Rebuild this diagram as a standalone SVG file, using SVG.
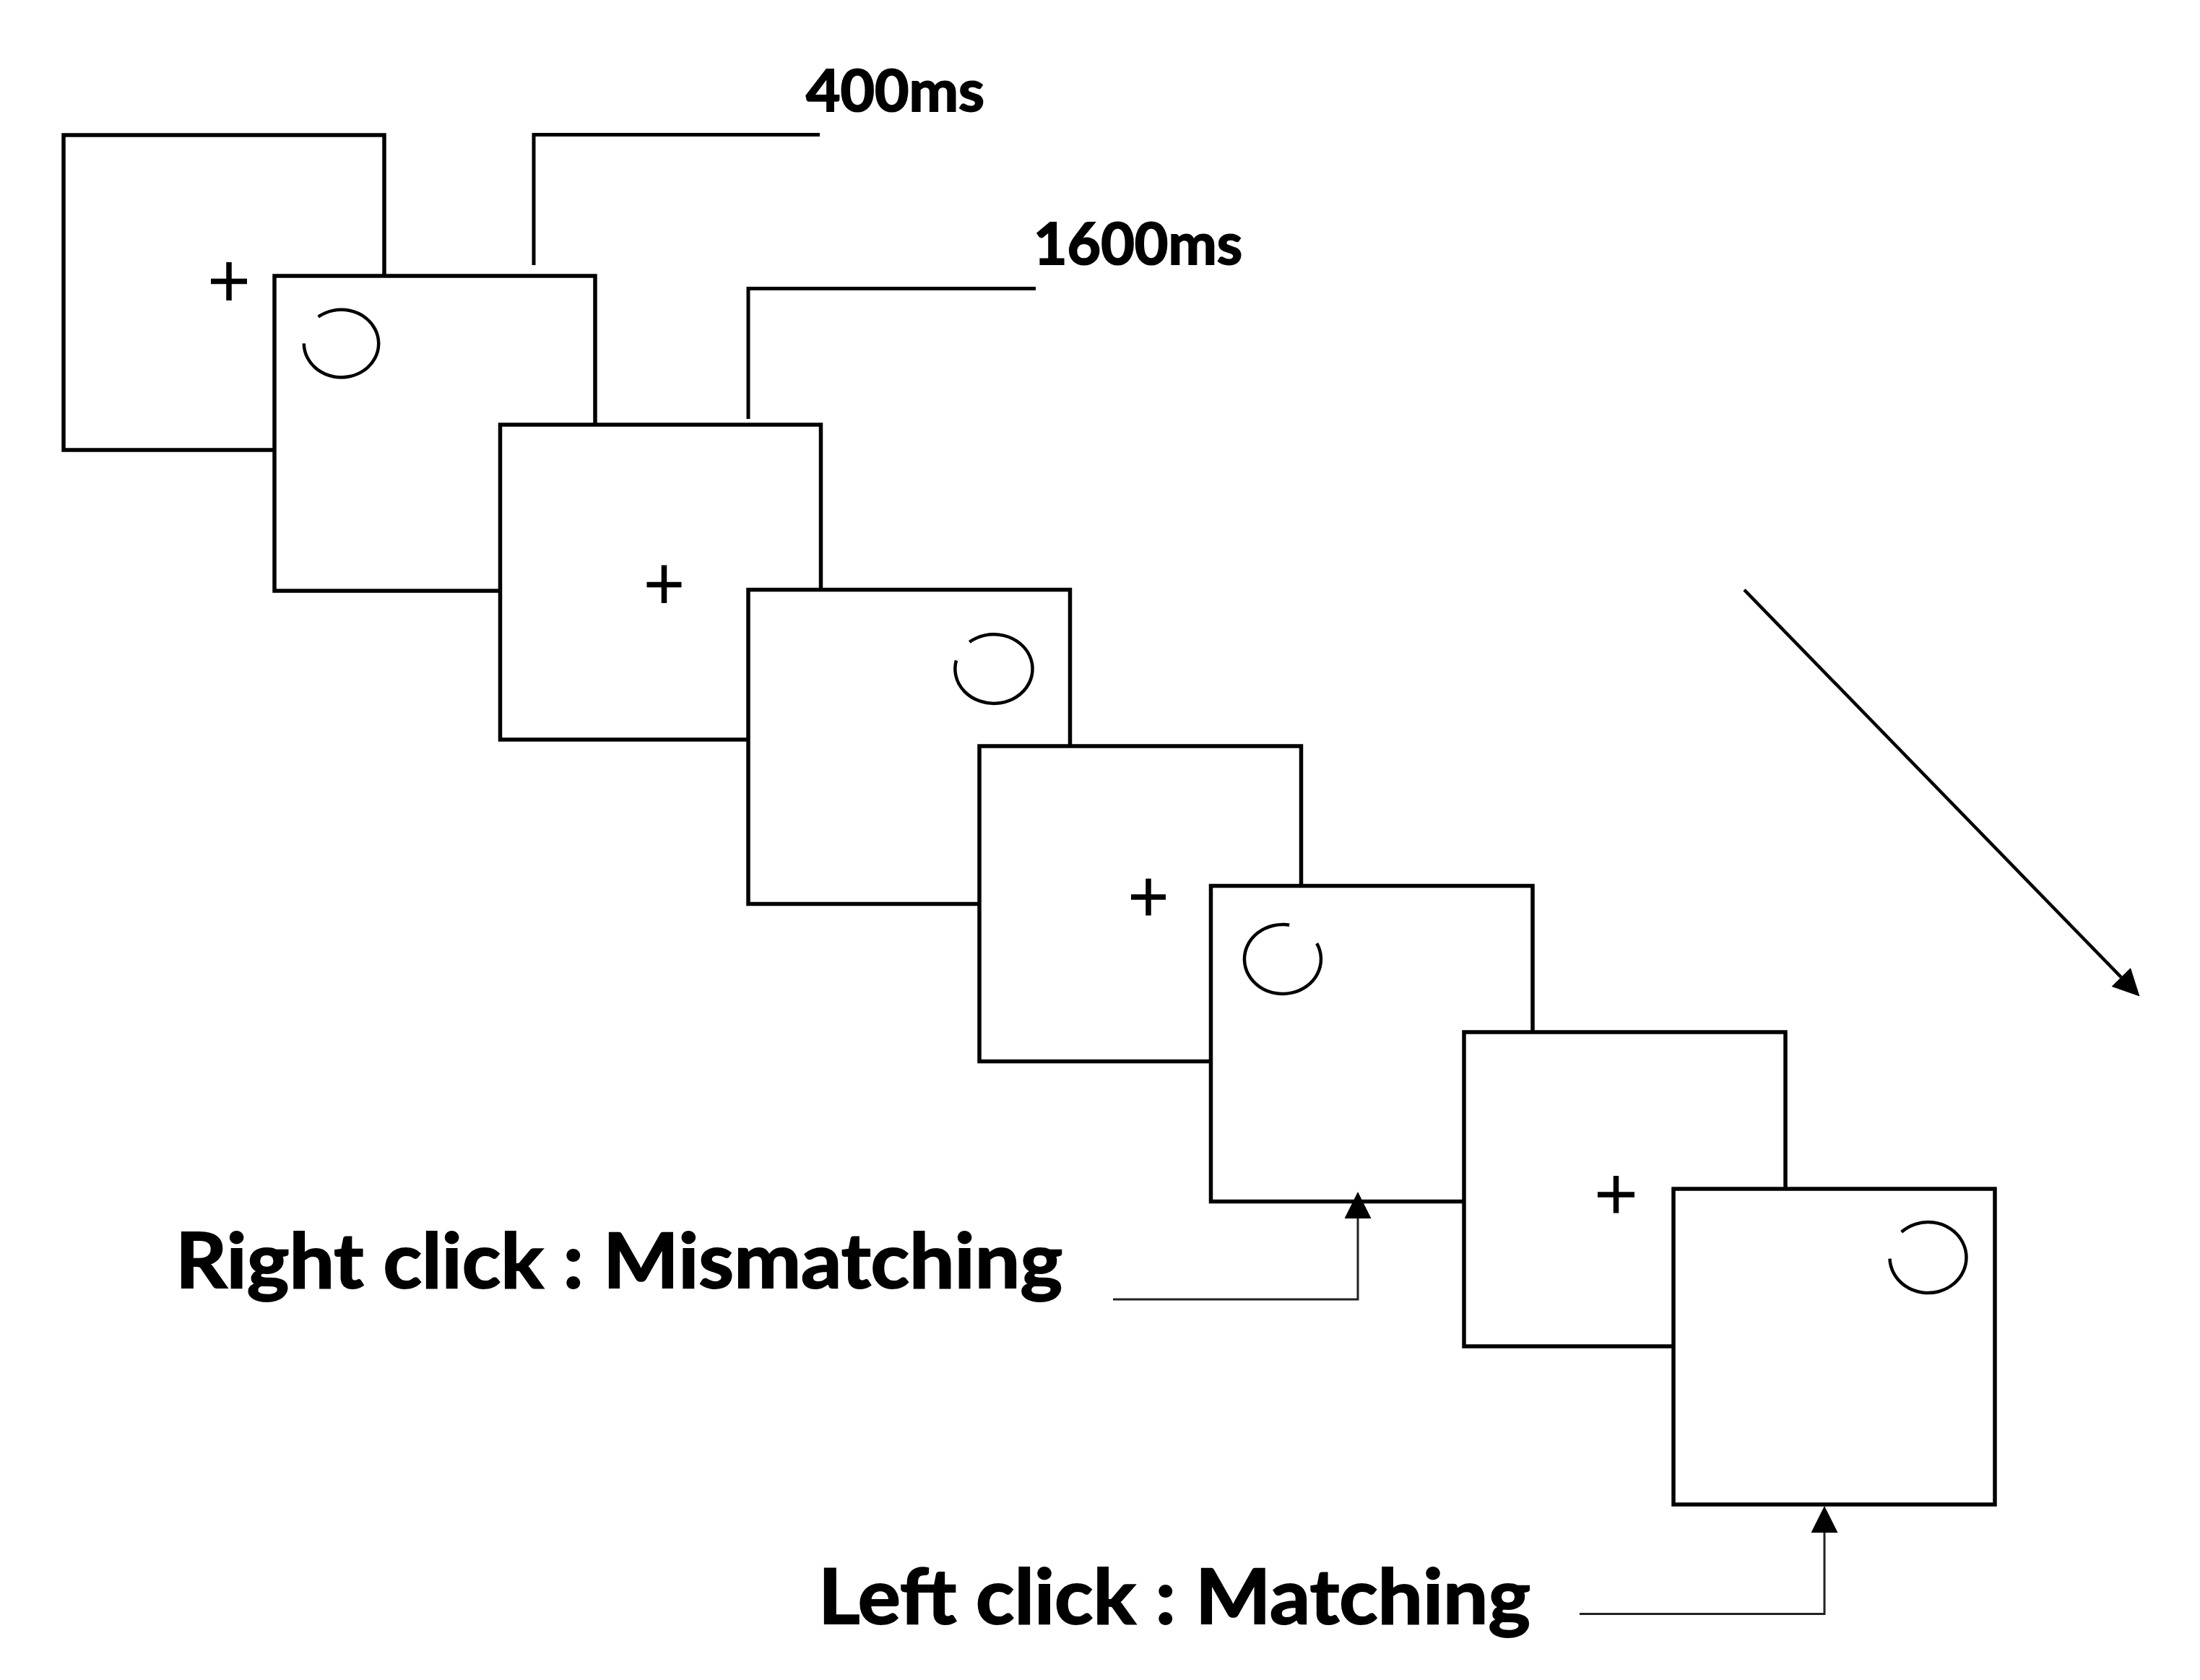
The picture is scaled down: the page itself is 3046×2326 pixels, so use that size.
<svg xmlns="http://www.w3.org/2000/svg" width="3046" height="2326" viewBox="0 0 3046 2326">
<style>
.scr{fill:#fff;stroke:#000;stroke-width:5.5}
.fix{fill:none;stroke:#000;stroke-width:7.5}
.ring{fill:none;stroke:#000;stroke-width:4.5}
.call{fill:none;stroke:#000;stroke-width:5}
.thin{fill:none;stroke:#222;stroke-width:3}
.diag{fill:none;stroke:#000;stroke-width:4.5}
.lbl{font-family:Lato,'Liberation Sans',sans-serif;font-weight:700;fill:#000;stroke:#000;stroke-width:2}
</style>
<defs>
<marker id="ah" viewBox="0 0 37 37" refX="0" refY="18.5" markerWidth="37" markerHeight="37" markerUnits="userSpaceOnUse" orient="auto">
<path d="M0,0 L37,18.5 L0,37 z" fill="#000"/>
</marker>
</defs>
<rect width="3046" height="2326" fill="#fff"/>
<g id="screen1">
<rect class="scr" x="88" y="187" width="444" height="436"/>
<path class="fix" d="M292,389.5 H342 M317,363 V416"/>
</g>
<g id="screen2">
<rect class="scr" x="380" y="382" width="444" height="436"/>
<path class="ring" d="M440.7,438.7 A51.7,46.8 0 1 1 420.8,475.6"/>
</g>
<g id="screen3">
<rect class="scr" x="692.5" y="588" width="444" height="436"/>
<path class="fix" d="M895.5,809.5 H943.5 M919.5,782.5 V835"/>
</g>
<g id="screen4">
<rect class="scr" x="1036" y="816.5" width="445.5" height="435"/>
<path class="ring" d="M1342.3,888.9 A53.6,47.8 0 1 1 1324,914.4"/>
</g>
<g id="screen5">
<rect class="scr" x="1356" y="1033" width="445.5" height="436.5"/>
<path class="fix" d="M1566,1242 H1614 M1590,1216.5 V1267.5"/>
</g>
<g id="screen6">
<rect class="scr" x="1676.5" y="1226.5" width="445.5" height="437"/>
<path class="ring" d="M1823.2,1306.2 A53,48 0 1 1 1785.2,1280.7"/>
</g>
<g id="screen7">
<rect class="scr" x="2027" y="1429" width="445" height="435"/>
<path class="fix" d="M2212,1654 H2263 M2237.5,1628 V1679.5"/>
</g>
<g id="screen8">
<rect class="scr" x="2317" y="1646" width="445" height="437"/>
<path class="ring" d="M2632.7,1705.8 A53,49 0 1 1 2616.5,1742.7"/>
</g>
<g id="connectors">
<path class="call" d="M739,367 V186.6 H1135"/>
<path class="call" d="M1036,580 V399.5 H1434"/>
<path class="thin" d="M1541,1799 H1880 V1687" marker-end="url(#ah)"/>
<path class="thin" d="M2187,2234.5 H2526 V2122" marker-end="url(#ah)"/>
<path class="diag" d="M2415,816.6 L2936.7,1352.9" marker-end="url(#ah)"/>
</g>
<g id="label-400ms">
<text class="lbl" x="1116" y="154" font-size="81" textLength="247" lengthAdjust="spacingAndGlyphs">400ms</text>
</g>
<g id="label-1600ms">
<text class="lbl" x="1431" y="366" font-size="81" textLength="289" lengthAdjust="spacingAndGlyphs">1600ms</text>
</g>
<g id="label-right-click">
<text class="lbl" x="243" y="1783" font-size="106" textLength="1228" lengthAdjust="spacingAndGlyphs">Right click : Mismatching</text>
</g>
<g id="label-left-click">
<text class="lbl" x="1133" y="2248" font-size="106" textLength="986" lengthAdjust="spacingAndGlyphs">Left click : Matching</text>
</g>
</svg>
